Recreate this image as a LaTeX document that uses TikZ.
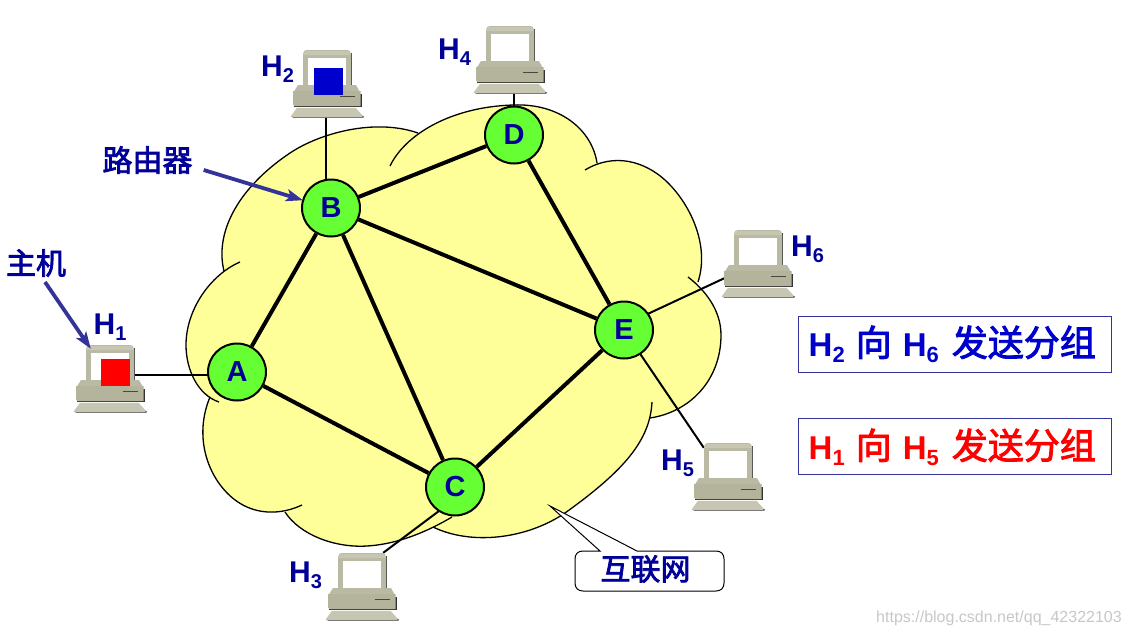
\documentclass[tikz,border=0pt]{standalone}
\usepackage{fontspec}
\setmainfont{Liberation Sans}
\newfontfamily\cjk{Noto Sans CJK SC}[FakeBold=2.5]
\usetikzlibrary{shapes.geometric,arrows.meta}
\pgfdeclarelayer{cloudlayer}
\pgfdeclarelayer{linklayer}
\pgfsetlayers{cloudlayer,linklayer,main}
\definecolor{cloudyellow}{HTML}{FFFF99}
\definecolor{routergreen}{HTML}{66FF33}
\definecolor{labelblue}{HTML}{000099}
\definecolor{arrowblue}{HTML}{333399}
\definecolor{pureblue}{HTML}{0000CC}
\definecolor{pcbody}{HTML}{B4B49C}
\definecolor{pclight}{HTML}{C6C6B2}
\definecolor{pcmon}{HTML}{BABAA4}
\newcommand{\HL}[1]{\fontsize{30}{30}\selectfont\bfseries H\raisebox{-6pt}{\fontsize{20}{20}\selectfont\bfseries #1}}
\newcommand{\HB}[1]{{\bfseries\fontsize{33}{34}\selectfont H\raisebox{-6pt}{\fontsize{22}{22}\selectfont\bfseries #1}}}
\newcommand{\CB}[1]{{\cjk\fontsize{36}{36}\selectfont #1}}
\newcommand{\lobes}[1]{%
 \path[#1] (224,271) .. controls (215,235) and (235,190) .. (290,153) .. controls (320,133) and (375,118) .. (418,133);
 \path[#1] (390,166) .. controls (405,135) and (450,107) .. (513,105) .. controls (560,103) and (592,130) .. (597,163);
 \path[#1] (585,170) .. controls (615,152) and (645,162) .. (665,180) .. controls (690,203) and (710,245) .. (698,282);
 \path[#1] (688,277) .. controls (705,290) and (721,310) .. (721,335) .. controls (721,380) and (690,412) .. (650,418);
 \path[#1] (652,402) .. controls (650,440) and (625,470) .. (565,513) .. controls (525,540) and (470,545) .. (433,527);
 \path[#1] (285,512) .. controls (300,535) and (335,548) .. (367,546) .. controls (400,544) and (430,530) .. (452,517);
 \path[#1] (302,505) .. controls (285,513) and (265,515) .. (247,507) .. controls (215,493) and (190,445) .. (210,397);
 \path[#1] (240,262) .. controls (210,275) and (186,310) .. (186,345) .. controls (186,370) and (198,395) .. (219,402);
}
\tikzset{
 router/.style={ellipse,draw=black,line width=2pt,fill=routergreen,minimum width=58pt,minimum height=57pt,inner sep=0pt,text=labelblue,font=\bfseries\fontsize{29}{29}\selectfont},
 trunk/.style={line width=4pt,black},
 stub/.style={line width=2pt,black},
 pointer/.style={line width=3.8pt,arrowblue,-{Stealth[length=17pt,width=12pt,inset=4pt]}},
 hostlabel/.style={anchor=base west,inner sep=0pt,text=labelblue},
 cjklabel/.style={inner sep=0pt,text=labelblue,font=\cjk\fontsize{30}{30}\selectfont},
 legend/.style={draw=arrowblue,line width=1pt,minimum width=313pt,minimum height=56pt,inner sep=0pt},
 legendtext/.style={anchor=base west,inner sep=0pt},
 packet/.style={minimum width=29pt,minimum height=27pt,inner sep=0pt},
 hostbox/.style={minimum width=72pt,minimum height=68pt,inner sep=0pt},
 computer/.pic={
  \node[hostbox] (box) at (36,34) {};
  % monitor
  \fill[black!70] (59,3) -- (60.2,3) -- (60.2,36) -- (59,36) -- cycle;
  \fill[pcmon] (11,4) .. controls (11,1) and (13,0) .. (15,0) -- (55,0) .. controls (57,0) and (59,1) .. (59,4) -- (59,36) -- (11,36) -- cycle;
  \fill[pclight] (13,1) -- (57,1) -- (59,5) -- (11,5) -- cycle;
  \fill[white] (15.5,8) rectangle (53.5,35);
  % base
  \fill[black!80] (68,44) rectangle (69.6,57);
  \fill[black!80] (2,56) rectangle (69.6,57);
  \fill[pcmon] (6,35) -- (64,35) -- (68.5,43) -- (1,43) -- cycle;
  \fill[pcbody] (1,41) -- (68.5,41) -- (68.5,56) -- (3,56) .. controls (2,56) and (1,55) .. (1,54) -- cycle;
  \draw[line width=.8pt,black!60!pcbody] (47.5,46) -- (62.5,46);
  % foot
  \fill[black!80] (-1,66) -- (71.5,66) -- (71.5,67.6) -- (1,67.6) -- cycle;
  \fill[pclight] (5,57.8) -- (63.5,57.8) -- (71,66) -- (70,66.8) -- (0,66.8) -- (-1,66) -- cycle;
 },
}
\begin{document}
\begin{tikzpicture}[x=1pt,y=-1pt]
\useasboundingbox (0,0) rectangle (1130,637);
% routers
\node[router] (a) at (237,372) {A};
\node[router] (b) at (331,208) {B};
\node[router] (c) at (455,487) {C};
\node[router] (d) at (514,135) {D};
\node[router] (e) at (624,330) {E};
% hosts
\pic (h1) at (75,345) {computer};
\pic (h2) at (292,50) {computer};
\pic (h3) at (327,553) {computer};
\pic (h4) at (475,26) {computer};
\pic (h5) at (693,443) {computer};
\pic (h6) at (723,230) {computer};
\node[packet,fill=red] (pktred) at (115.5,372.5) {};
\node[packet,fill=pureblue] (pktblue) at (328.5,81) {};
% host labels
\node[hostlabel] (lh1) at (93.5,334) {\HL{1}};
\node[hostlabel] (lh2) at (261,76) {\HL{2}};
\node[hostlabel] (lh3) at (289,582) {\HL{3}};
\node[hostlabel] (lh4) at (438,59) {\HL{4}};
\node[hostlabel] (lh5) at (661,470) {\HL{5}};
\node[hostlabel] (lh6) at (791,256) {\HL{6}};
% callouts
\node[cjklabel] (lrouter) at (147.5,160) {路由器};
\node[cjklabel] (lhost) at (36,263) {主机};
\draw[pointer] ([xshift=11pt,yshift=-10pt]lrouter.east) -- ([xshift=1pt]b.165);
\draw[pointer] ([xshift=9pt,yshift=-5pt]lhost.south) -- ([xshift=16pt,yshift=-4pt]h1box.north west);
% legend
\node[legend] (legb) at (954.5,344) {};
\node[legend] (legr) at (954.5,446.5) {};
\node[legendtext,text=pureblue] (tb) at (808.5,356) {\HB{2}\hspace{11pt}\CB{向}\hspace{11pt}\HB{6}\hspace{13pt}\CB{发送分组}};
\node[legendtext,text=red] (tr) at (808.5,459) {\HB{1}\hspace{11pt}\CB{向}\hspace{11pt}\HB{5}\hspace{13pt}\CB{发送分组}};
% internet callout
\draw[line width=1pt,fill=white] (600,551) -- (550,506) -- (637,551) -- (716,551)
  .. controls (721,551) and (724,554) .. (724,559) -- (724,583)
  .. controls (724,588) and (721,591) .. (716,591) -- (583,591)
  .. controls (578,591) and (575,588) .. (575,583) -- (575,559)
  .. controls (575,554) and (578,551) .. (583,551) -- cycle;
\node[cjklabel] (lnet) at (645.5,569) {互联网};
% watermark
\node[inner sep=0pt,text=black!22,font=\fontsize{16}{16}\selectfont] (wm) at (999,618) {https://blog.csdn.net/qq\_42322103};
% links
\begin{pgfonlayer}{linklayer}
\draw[trunk] (a) -- (b);
\draw[trunk] (a) -- (c);
\draw[trunk] (b) -- (c);
\draw[trunk] (b) -- (d);
\draw[trunk] (b) -- (e);
\draw[trunk] (d) -- (e);
\draw[trunk] (c) -- (e);
\draw[stub] ([xshift=-12pt,yshift=4pt]h1box.east) -- ([yshift=-3pt]a.center);
\draw[stub] ([xshift=-2pt]h2box.south) -- ([xshift=-5pt]b.center);
\draw[stub] ([xshift=3pt]h4box.south) -- (d);
\draw[stub] ([xshift=2pt,yshift=-14pt]h6box.west) -- ([yshift=5pt]e.center);
\draw[stub] ([xshift=11pt,yshift=-5pt]h5box.north west) -- (e);
\draw[stub] ([xshift=-16pt]h3box.north east) -- ([yshift=-12pt]c.center);
\end{pgfonlayer}
% cloud
\begin{pgfonlayer}{cloudlayer}
\lobes{fill=cloudyellow}
\fill[cloudyellow] (224,271) -- (418,133) -- (597,163) -- (698,282) -- (650,418) -- (433,527) -- (285,511) -- (210,397) -- cycle;
\lobes{draw=black,line width=1.3pt}
\end{pgfonlayer}
\end{tikzpicture}
\end{document}
